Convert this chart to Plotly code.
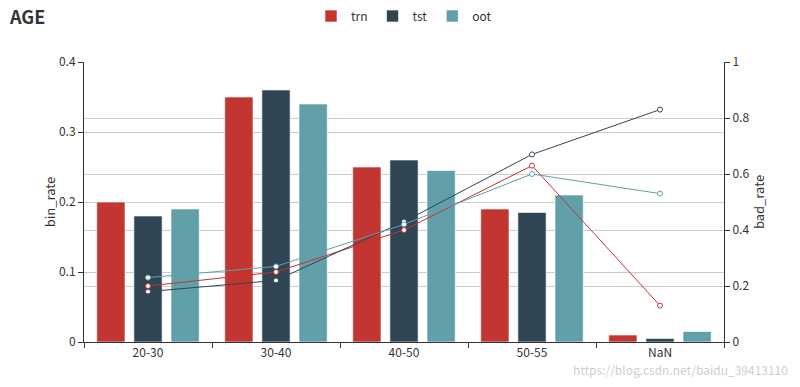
import plotly.graph_objects as go

categories = ["20-30", "30-40", "40-50", "50-55", "NaN"]
trn_bin = [0.20, 0.35, 0.25, 0.19, 0.01]
tst_bin = [0.18, 0.36, 0.26, 0.185, 0.005]
oot_bin = [0.19, 0.34, 0.245, 0.21, 0.015]
trn_bad = [0.20, 0.25, 0.40, 0.63, 0.13]
tst_bad = [0.18, 0.22, 0.43, 0.67, 0.83]
oot_bad = [0.23, 0.27, 0.42, 0.60, 0.53]

colors = {"trn": "#c23531", "tst": "#2f4554", "oot": "#61a0a8"}
FONT = "Noto Sans CJK SC, Noto Sans, sans-serif"
W, H = 792, 379

fig = go.Figure()
for name, vals in [("trn", trn_bin), ("tst", tst_bin), ("oot", oot_bin)]:
    fig.add_trace(go.Bar(x=categories, y=vals, name=name, legendgroup=name,
                         marker=dict(color=colors[name],
                                     line=dict(color="rgba(255,255,255,0.6)", width=1)),
                         yaxis="y"))
for name, vals in [("trn", trn_bad), ("tst", tst_bad), ("oot", oot_bad)]:
    fig.add_trace(go.Scatter(x=categories, y=vals, name=name, legendgroup=name,
                             showlegend=False, mode="lines+markers",
                             line=dict(color=colors[name], width=1),
                             marker=dict(symbol="circle", size=5, color="white",
                                         line=dict(color=colors[name], width=1)),
                             yaxis="y2"))

fig.update_layout(
    width=W, height=H,
    margin=dict(l=76, r=76, t=54, b=45, autoexpand=False),
    paper_bgcolor="white", plot_bgcolor="white",
    font=dict(family=FONT, size=12, color="#333"),
    barmode="group", bargap=0.13, bargroupgap=0.24,
    title=dict(text="<b>AGE</b>", x=2 / W, xanchor="left", xref="container",
               y=1 - 10 / H, yanchor="middle", yref="container", pad=dict(l=0, t=0),
               font=dict(size=18, color="#333", family=FONT)),
    legend=dict(orientation="h", x=0.5, xanchor="center", xref="container",
                y=1 - 8 / H, yanchor="middle", yref="container",
                font=dict(size=12, color="#333"),
                itemwidth=30, traceorder="normal"),
    xaxis=dict(type="category", showline=True, linecolor="#333", linewidth=1,
               ticks="outside", ticklen=5, tickcolor="#333", tickson="boundaries",
               showgrid=False, automargin=False, tickfont=dict(size=12, color="#333")),
    yaxis=dict(title=dict(text="bin_rate", standoff=0, font=dict(size=13, color="#333")),
               range=[0, 0.4], dtick=0.1, showline=True, linecolor="#333", linewidth=1,
               ticks="outside", ticklen=5, tickcolor="#333", automargin=False,
               gridcolor="#ccc", gridwidth=1, zeroline=False,
               tickfont=dict(size=12, color="#333")),
    yaxis2=dict(title=dict(text="bad_rate", standoff=0, font=dict(size=13, color="#333")),
                range=[0, 1], dtick=0.2, overlaying="y", side="right",
                showline=True, linecolor="#333", linewidth=1, automargin=False,
                ticks="outside", ticklen=5, tickcolor="#333",
                gridcolor="#ccc", gridwidth=1, zeroline=False,
                tickfont=dict(size=12, color="#333")),
    annotations=[dict(text="https://blog.csdn.net/baidu_39413110", xref="paper", yref="paper",
                      x=1.103, y=-0.135, xanchor="right", yanchor="bottom", showarrow=False,
                      font=dict(size=12, color="rgba(200,200,200,0.9)"))],
)

fig.write_html("out.html")
